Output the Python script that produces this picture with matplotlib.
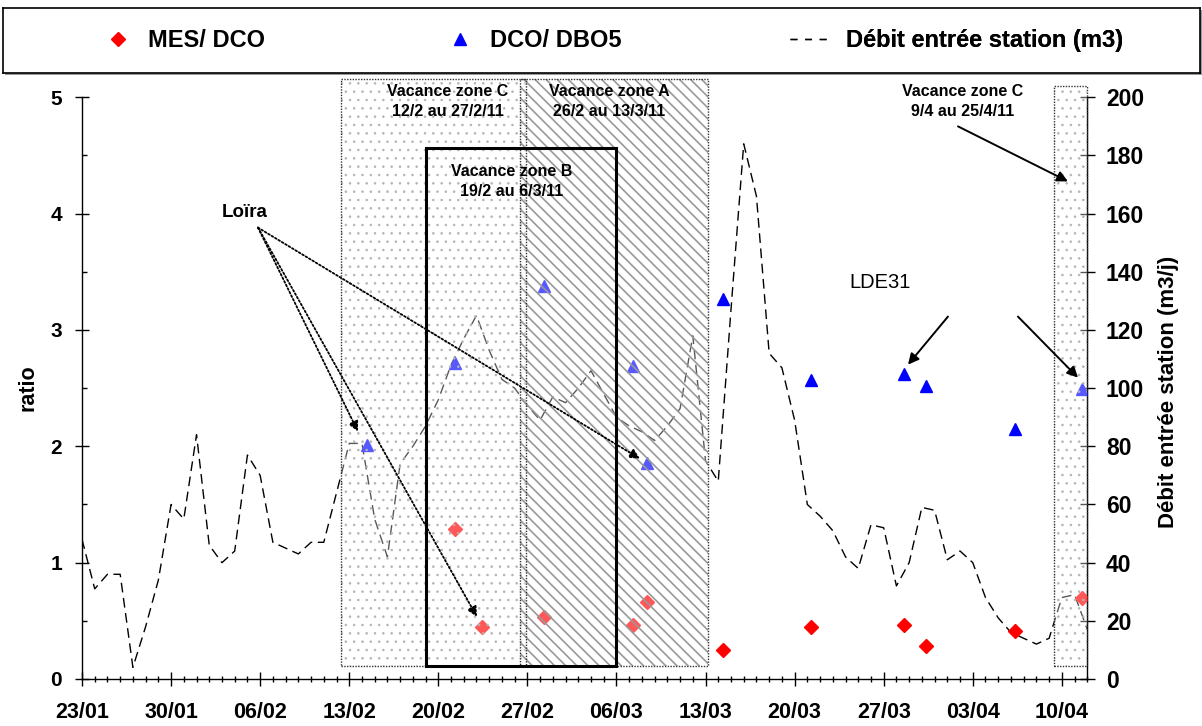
import matplotlib
matplotlib.use('Agg')
import matplotlib.pyplot as plt
import matplotlib.dates as mdates
from matplotlib.patches import Rectangle
from matplotlib.lines import Line2D
from matplotlib.ticker import FixedLocator, MultipleLocator
import numpy as np
import pandas as pd

plt.rcParams['font.family'] = ['Liberation Sans', 'DejaVu Sans']
plt.rcParams['font.weight'] = 'bold'
plt.rcParams['hatch.linewidth'] = 1.0

# ---------------- data ----------------
start_date = '2011-01-23'
end_date = '2011-04-12'
debit = [48, 31, 36, 36, 4, 18, 34, 60, 55, 84,
         46, 40, 44, 77, 70, 47, 45, 43, 47, 47,
         64, 81, 81, 55, 42, 74, 80, 87, 96, 108,
         117, 125, 113, 103, 100, 94, 89, 97, 95, 100,
         106, 98, 90, 87, 85, 82, 87, 93, 118, 75,
         68, 127, 184, 166, 112, 107, 89, 60, 56, 51,
         42, 38, 53, 52, 32, 40, 59, 58, 41, 44,
         40, 28, 21, 16, 14, 12, 14, 28, 29, 17]

sample_times = ['2011-02-14 10:00', '2011-02-21 07:00', '2011-02-23 10:00',
                '2011-02-28 07:00', '2011-03-07 07:00', '2011-03-08 10:00',
                '2011-03-14 08:00', '2011-03-21 07:00', '2011-03-28 14:00',
                '2011-03-30 07:00', '2011-04-06 07:00', '2011-04-11 14:00']
mes_dco = [np.nan, 1.29, 0.45, 0.535, 0.465, 0.665, 0.25, 0.45, 0.465, 0.28, 0.41, 0.695]
dco_dbo5 = [2.01, 2.72, np.nan, 3.38, 2.69, 1.86, 3.27, 2.57, 2.62, 2.52, 2.15, 2.49]

tick_labels = ['23/01', '30/01', '06/02', '13/02', '20/02', '27/02',
               '06/03', '13/03', '20/03', '27/03', '03/04', '10/04']

# holiday zones (start, end)
zone_c1 = ('2011-02-12 08:00', '2011-02-26 22:00')
zone_a = ('2011-02-26 10:00', '2011-03-13 05:00')
zone_b = ('2011-02-19 01:00', '2011-03-06 00:00')
zone_c2 = ('2011-04-09 10:00', '2011-04-12 00:00')

series_labels = ['MES/ DCO', 'DCO/ DBO5', 'Débit entrée station (m3)']

# ---------------- figure ----------------
W, H = 1202, 726
fig = plt.figure(figsize=(W / 100, H / 100), dpi=100)
fig.patch.set_facecolor('white')


def fx(px):
    return px / W


def fy(py):
    return 1 - py / H


ax = fig.add_axes([fx(82), fy(679), (1087.3 - 82) / W, (679 - 97.3) / H])
ax2 = ax.twinx()
ax.set_zorder(2)
ax2.set_zorder(1)
ax.patch.set_visible(False)

dates = pd.date_range(start_date, periods=len(debit), freq='D')
t_samples = pd.to_datetime(sample_times)
t0 = mdates.date2num(pd.Timestamp(start_date))


def X(day):
    return t0 + day


def num(s):
    return mdates.date2num(pd.Timestamp(s))


# flow line (right axis)
ax2.plot(dates, debit, color='black', lw=1.0, dashes=(7, 4), zorder=2)

# ratios (left axis)
ax.plot(t_samples, mes_dco, ls='none', marker='D', ms=6.8, color='#ff0000',
        mec='#ff0000', zorder=3)
ax.plot(t_samples, dco_dbo5, ls='none', marker='^', ms=9.0, color='#0000ff',
        mec='#0000ff', zorder=3)

# axes limits
ax.set_xlim(num(start_date), num(end_date))
ax.set_ylim(0, 5)
ax2.set_ylim(0, 200)

# zones
y_bot = 0.115
y_top = 5.16
veil = (1, 1, 1, 0.35)
for (s, e), hatch, hcol, top, hlw in [(zone_c1, '..', '#b4b4b4', y_top, 0.6),
                                       (zone_a, '\\\\\\', '#999999', y_top, 1.2),
                                       (zone_c2, '..', '#b4b4b4', 5.10, 0.6)]:
    x0, x1 = num(s), num(e)
    with plt.rc_context({'hatch.linewidth': hlw}):
        p = Rectangle((x0, y_bot), x1 - x0, top - y_bot, facecolor=veil,
                      edgecolor=hcol, hatch=hatch, lw=0, zorder=4,
                      clip_on=False)
    ax.add_patch(p)
    ax.add_patch(Rectangle((x0, y_bot), x1 - x0, top - y_bot, fill=False,
                           edgecolor='#333333', ls=(0, (1, 1)), lw=1.0,
                           zorder=5, clip_on=False))
bx0, bx1 = num(zone_b[0]), num(zone_b[1])
ax.add_patch(Rectangle((bx0, y_bot), bx1 - bx0, 4.564 - y_bot, fill=False,
                       edgecolor='black', lw=2.2, zorder=5, clip_on=False))

# zone labels
zfs = 11.5
zls = 1.45
ax.text(X(28.76), 4.966, 'Vacance zone C\n12/2 au 27/2/11', ha='center',
        va='center', fontsize=zfs, zorder=7, linespacing=zls)
ax.text(X(41.41), 4.966, 'Vacance zone A\n26/2 au 13/3/11', ha='center',
        va='center', fontsize=zfs, zorder=7, linespacing=zls)
ax.text(X(33.79), 4.277, 'Vacance zone B\n19/2 au 6/3/11', ha='center',
        va='center', fontsize=zfs, zorder=7, linespacing=zls)
ax.text(X(69.23), 4.966, 'Vacance zone C\n9/4 au 25/4/11', ha='center',
        va='center', fontsize=zfs, zorder=7, linespacing=zls)

# annotations
ax.text(X(12.8), 4.01, 'Loïra', ha='center', va='center', fontsize=13.5, zorder=7)
dotted = dict(arrowstyle='-|>', ls=(0, (1, 1.2)), lw=1.3, color='black',
              shrinkA=0, shrinkB=0, mutation_scale=15)
for tip in [(21.69, 2.126), (31.04, 0.534), (43.85, 1.893)]:
    ax.annotate('', xy=(X(tip[0]), tip[1]), xytext=(X(13.83), 3.88),
                arrowprops=dotted, zorder=6)

ax.text(X(62.7), 3.408, 'LDE31', ha='center', va='center', fontsize=14.5,
        fontweight='normal', zorder=7)
solid = dict(arrowstyle='-|>', lw=1.4, color='black', shrinkA=0, shrinkB=0,
             mutation_scale=16)
ax.annotate('', xy=(X(64.91), 2.702), xytext=(X(68.05), 3.115),
            arrowprops=solid, zorder=6)
ax.annotate('', xy=(X(78.27), 2.59), xytext=(X(73.55), 3.115),
            arrowprops=solid, zorder=6)
ax.annotate('', xy=(X(77.48), 4.277), xytext=(X(68.84), 4.75),
            arrowprops=solid, zorder=6)

# spines
ax.spines['top'].set_visible(False)
ax.spines['right'].set_visible(False)
for s in ['top', 'left', 'bottom']:
    ax2.spines[s].set_visible(False)
for sp in [ax.spines['left'], ax.spines['bottom'], ax2.spines['right']]:
    sp.set_linewidth(1.0)

# ticks
tick_pos = [num(pd.to_datetime(t + '/2011', format='%d/%m/%Y')) for t in tick_labels]
ax.xaxis.set_major_locator(FixedLocator(tick_pos))
ax.set_xticklabels(tick_labels)
ax.xaxis.set_minor_locator(mdates.DayLocator())
ax.tick_params(axis='x', which='major', direction='inout', length=9.5, width=1,
               pad=12, labelsize=15.5)
ax.tick_params(axis='x', which='minor', direction='inout', length=5, width=1)

ax.set_yticks(np.arange(0, 6, 1))
ax.yaxis.set_minor_locator(MultipleLocator(0.5))
ax.tick_params(axis='y', which='major', direction='inout', length=9.5, width=1,
               pad=9.5, labelsize=15)
ax.tick_params(axis='y', which='minor', direction='in', length=3.6, width=1)

ax2.set_yticks(np.arange(0, 201, 20))
ax2.tick_params(axis='y', which='major', direction='inout', length=10.8,
                width=1, pad=8, labelsize=16.5)

# axis titles
fig.text(fx(33.5), fy(388), 'ratio', rotation=90, rotation_mode='anchor',
         ha='center', va='baseline', fontsize=15.5)
fig.text(fx(1174), fy(392), 'Débit entrée station (m3/j)', rotation=90,
         rotation_mode='anchor', ha='center', va='baseline', fontsize=16)

# legend box
shadow = Rectangle((fx(5), fy(75)), (1200 - 3) / W, (73 - 8) / H,
                   transform=fig.transFigure, facecolor='#9a9a9a',
                   edgecolor='none', zorder=8)
fig.add_artist(shadow)
lax = fig.add_axes([fx(3), fy(73), (1200 - 3) / W, (73 - 8) / H])
lax.set_zorder(10)
lax.set_xticks([])
lax.set_yticks([])
for sp in lax.spines.values():
    sp.set_linewidth(1.2)

h_mes = Line2D([], [], ls='none', marker='D', ms=6.8, color='#ff0000')
h_dco = Line2D([], [], ls='none', marker='^', ms=9.0, color='#0000ff')
h_deb = Line2D([], [], color='black', lw=1.0, dashes=(5, 5.5))
lprop = dict(size=17, weight='bold')
for h, lab, x0, hl, hp in [(h_mes, series_labels[0], 106, 1.0, 0.76),
                            (h_dco, series_labels[1], 448, 1.0, 0.80),
                            (h_deb, series_labels[2], 790, 1.82, 0.55)]:
    lg = lax.legend([h], [lab], loc='center left',
                    bbox_to_anchor=((x0 - 3) / 1197, 0.5), frameon=False,
                    borderpad=0, borderaxespad=0, handlelength=hl,
                    handletextpad=hp, prop=lprop)
    lax.add_artist(lg)

fig.savefig('out.png', dpi=100, facecolor='white')
